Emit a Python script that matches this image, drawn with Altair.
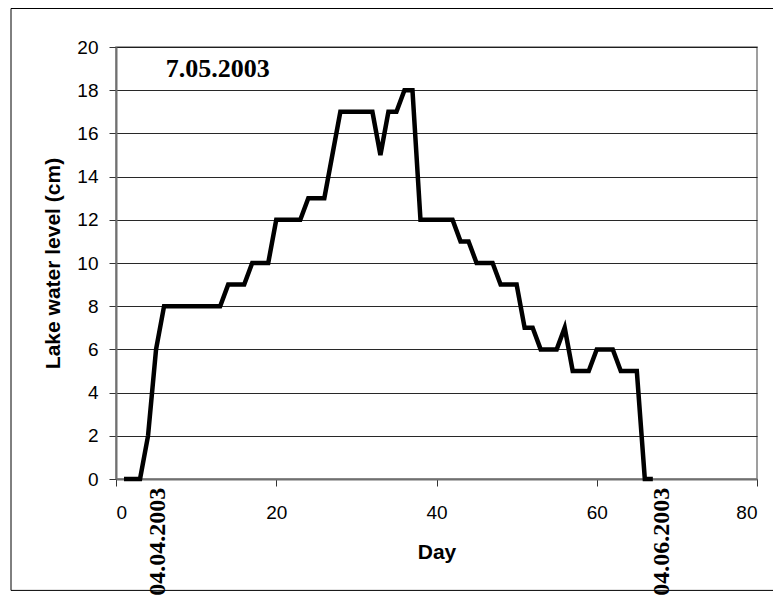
import altair as alt
import pandas as pd

days = list(range(1, 68))
levels = [0, 0, 0, 2, 6, 8, 8, 8, 8, 8, 8, 8, 8, 9, 9, 9, 10, 10, 10, 12,
          12, 12, 12, 13, 13, 13, 15, 17, 17, 17, 17, 17, 15, 17, 17, 18, 18, 12, 12, 12,
          12, 12, 11, 11, 10, 10, 10, 9, 9, 9, 7, 7, 6, 6, 6, 7, 5, 5, 5, 6,
          6, 6, 5, 5, 5, 0, 0]

title_text = ["7.05.2003"]
title_x = [12.7]
title_y = [19.0]

date_labels = ["04.04.2003", "04.06.2003"]
date_x = [5.2, 68.1]
date_y = [-0.4, -0.4]

df = pd.DataFrame({"Day": days, "Level": levels})
df_title = pd.DataFrame({"t": title_text, "x": title_x, "y": title_y})
df_dates = pd.DataFrame({"t": date_labels, "x": date_x, "y": date_y})

xscale = alt.Scale(domain=[0, 80], nice=False)
yscale = alt.Scale(domain=[0, 20], nice=False)

line = alt.Chart(df).mark_line(color="black", strokeWidth=4.5, strokeJoin="miter").encode(
    x=alt.X("Day:Q", scale=xscale, title="Day",
            axis=alt.Axis(values=[0, 20, 40, 60, 80], grid=False, tickSize=7,
                          labelPadding=32, labelBaseline="alphabetic",
                          titleY=79, titleBaseline="alphabetic")),
    y=alt.Y("Level:Q", scale=yscale, title="Lake water level (cm)",
            axis=alt.Axis(values=list(range(0, 21, 2)), grid=True, tickSize=7,
                          labelPadding=11, titleX=-63, titleBaseline="middle")),
)

title = alt.Chart(df_title).mark_text(font="Liberation Serif", fontWeight="bold", fontSize=26,
                                      align="center", baseline="middle", color="black").encode(
    x=alt.X("x:Q", scale=xscale), y=alt.Y("y:Q", scale=yscale), text="t:N")

dates = alt.Chart(df_dates).mark_text(font="Liberation Serif", fontWeight="bold", fontSize=24,
                                      angle=270, align="right", baseline="middle",
                                      color="black").encode(
    x=alt.X("x:Q", scale=xscale), y=alt.Y("y:Q", scale=yscale), text="t:N")

one = pd.DataFrame({"a": [0]})
frame_left = alt.Chart(one).mark_rule(color="black", strokeWidth=1).encode(
    x=alt.value(-105), y=alt.value(-38.5), y2=alt.value(543.4))
frame_top = alt.Chart(one).mark_rule(color="black", strokeWidth=1).encode(
    x=alt.value(-105), x2=alt.value(700), y=alt.value(-38.5))
frame_bottom = alt.Chart(one).mark_rule(color="black", strokeWidth=1).encode(
    x=alt.value(-105), x2=alt.value(700), y=alt.value(543.4))

chart = alt.layer(frame_left, frame_top, frame_bottom, line, title, dates).properties(
    width=641, height=432,
    autosize=alt.AutoSizeParams(type="none"),
    padding={"left": 108, "top": 39, "right": 16, "bottom": 117},
    background="white",
).configure_view(stroke="#808080", strokeWidth=1.5).configure_axis(
    labelFont="Liberation Sans", labelFontSize=19, labelColor="black",
    titleFont="Liberation Sans", titleFontSize=21, titleFontWeight="bold", titleColor="black",
    domainColor="#707070", domainWidth=2, tickColor="#333333", tickWidth=1,
    gridColor="#111111", gridWidth=1, gridOpacity=0.9,
)

chart.save("out.html", embed_options={"renderer": "svg", "actions": False})
